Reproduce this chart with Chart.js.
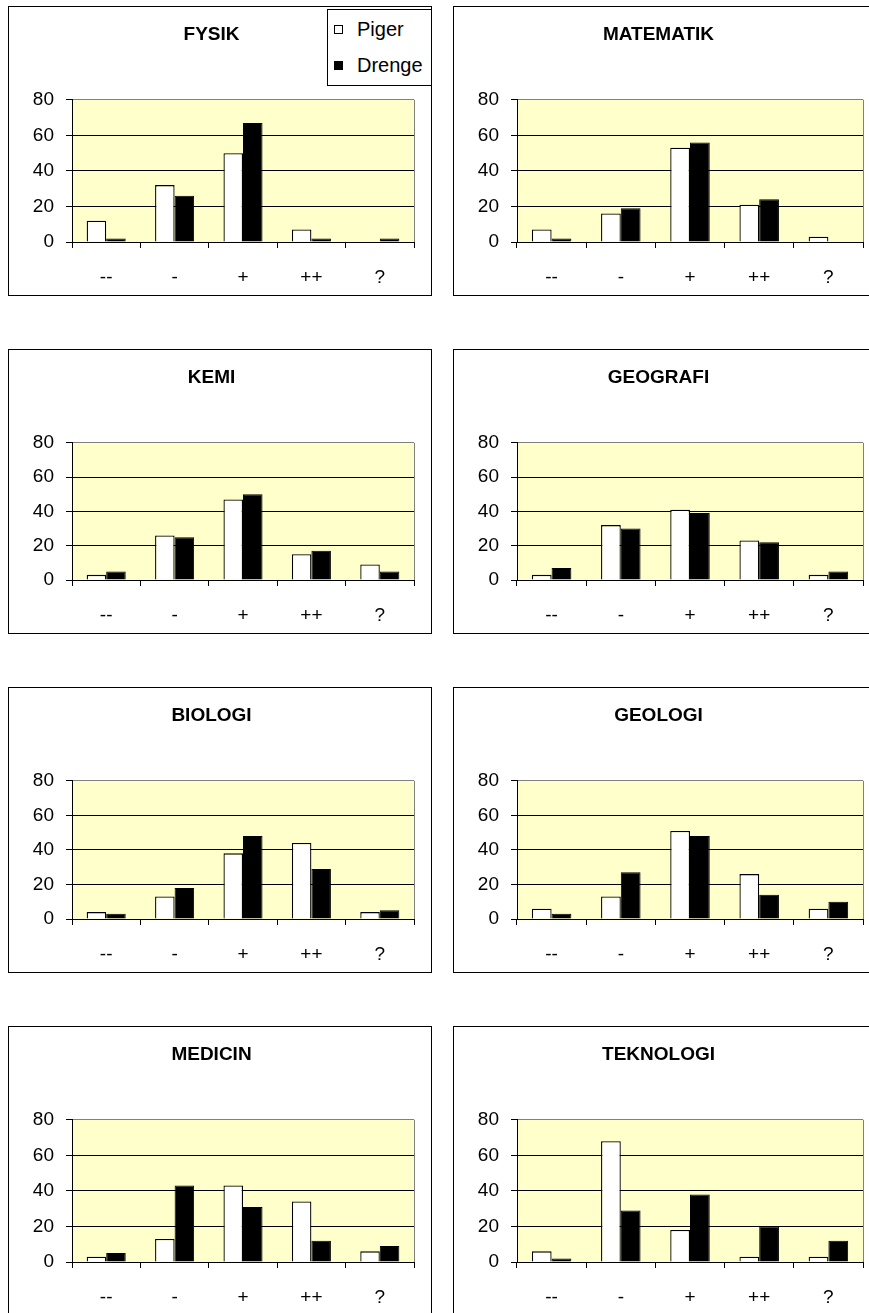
<!DOCTYPE html>
<html>
<head>
<meta charset="utf-8">
<script src="https://cdn.jsdelivr.net/npm/chart.js@4.4.1/dist/chart.umd.min.js"></script>
<style>
  html, body { margin: 0; padding: 0; background: #fff; }
  body { position: relative; width: 869px; height: 1313px; overflow: hidden; }
  .panel { position: absolute; box-sizing: border-box; border: 1px solid #000; background: #fff; }
  .panel canvas { position: absolute; left: 0; top: 0; }
  #legend {
    position: absolute; left: 327px; top: 9px; width: 105px; height: 77px;
    box-sizing: border-box; border: 1px solid #000; background: #fff;
    font-family: "Liberation Sans", Arial, sans-serif; font-size: 20px; color: #000;
    padding-top: 1px;
  }
  #legend .row { height: 36px; line-height: 36px; white-space: nowrap; position: relative; padding-left: 29px; }
  #legend .box { position: absolute; left: 6px; top: 14px; width: 9px; height: 9px; box-sizing: border-box; border: 1px solid #000; }
</style>
</head>
<body>
<script>
// Answer categories and the two groups
const categories = ['--', '-', '+', '++', '?'];
const seriesNames = ['Piger', 'Drenge'];
const yTickValues = [0, 20, 40, 60, 80];

// Percent of answers per subject
const fysikPiger = [12, 32, 50, 7, 0];
const fysikDrenge = [2, 26, 67, 2, 2];
const matematikPiger = [7, 16, 53, 21, 3];
const matematikDrenge = [2, 19, 56, 24, 0];
const kemiPiger = [3, 26, 47, 15, 9];
const kemiDrenge = [5, 25, 50, 17, 5];
const geografiPiger = [3, 32, 41, 23, 3];
const geografiDrenge = [7, 30, 39, 22, 5];
const biologiPiger = [4, 13, 38, 44, 4];
const biologiDrenge = [3, 18, 48, 29, 5];
const geologiPiger = [6, 13, 51, 26, 6];
const geologiDrenge = [3, 27, 48, 14, 10];
const medicinPiger = [3, 13, 43, 34, 6];
const medicinDrenge = [5, 43, 31, 12, 9];
const teknologiPiger = [6, 68, 18, 3, 3];
const teknologiDrenge = [2, 29, 38, 20, 12];

const subjectTitles = ['FYSIK', 'MATEMATIK', 'KEMI', 'GEOGRAFI', 'BIOLOGI', 'GEOLOGI', 'MEDICIN', 'TEKNOLOGI'];
const subjectPiger = [fysikPiger, matematikPiger, kemiPiger, geografiPiger, biologiPiger, geologiPiger, medicinPiger, teknologiPiger];
const subjectDrenge = [fysikDrenge, matematikDrenge, kemiDrenge, geografiDrenge, biologiDrenge, geologiDrenge, medicinDrenge, teknologiDrenge];

// Grid of panels: two columns, four rows
const colLeft = [8, 453];
const colWidth = [424, 428];
const rowTop = [6, 349, 687, 1026];
const rowHeight = [290, 285, 286, 290];

const FONT_FAMILY = '"Liberation Sans", Arial, sans-serif';
const Y_TICK_FONT = { family: FONT_FAMILY, size: 19 };
const X_TICK_FONT = { family: FONT_FAMILY, size: 19 };
const TITLE_FONT = { family: FONT_FAMILY, size: 19, weight: 'bold' };

// Pale yellow plot area with a grey frame on the right
const plotFrame = {
  id: 'plotFrame',
  beforeDraw(chart) {
    const a = chart.chartArea, ctx = chart.ctx;
    ctx.save();
    ctx.fillStyle = '#FFFFCC';
    ctx.fillRect(a.left, a.top, a.right - a.left, a.bottom - a.top);
    ctx.restore();
  },
  afterDraw(chart) {
    const a = chart.chartArea, ctx = chart.ctx;
    ctx.save();
    ctx.strokeStyle = '#808080';
    ctx.lineWidth = 1;
    ctx.beginPath();
    ctx.moveTo(Math.round(a.right) + 0.5, a.top);
    ctx.lineTo(Math.round(a.right) + 0.5, a.bottom);
    ctx.stroke();
    ctx.restore();
  }
};

function makeChart(canvas, idx) {
  return new Chart(canvas, {
    type: 'bar',
    data: {
      labels: categories,
      datasets: [
        { label: seriesNames[0], data: subjectPiger[idx], backgroundColor: '#ffffff', borderColor: '#000000', borderWidth: 1.3 },
        { label: seriesNames[1], data: subjectDrenge[idx], backgroundColor: '#000000', borderColor: '#000000', borderWidth: 1 }
      ]
    },
    options: {
      responsive: false,
      animation: false,
      events: [],
      categoryPercentage: 0.571,
      barPercentage: 1,
      layout: { padding: { left: 0, right: 17, top: 0, bottom: 0 } },
      plugins: {
        legend: { display: false },
        tooltip: { enabled: false },
        title: {
          display: true, text: subjectTitles[idx], color: '#000', font: TITLE_FONT,
          padding: { top: 16, bottom: 54 }
        }
      },
      scales: {
        x: {
          grid: { offset: true, drawOnChartArea: false, tickLength: 6, color: '#000', tickColor: '#000' },
          border: { color: '#000', width: 1 },
          ticks: { color: '#000', font: X_TICK_FONT, padding: 18, maxRotation: 0 },
          afterFit(scale) { scale.height = 53; }
        },
        y: {
          min: 0, max: 80,
          afterBuildTicks(scale) { scale.ticks = yTickValues.map(v => ({ value: v })); },
          ticks: { color: '#000', font: Y_TICK_FONT, padding: 12 },
          grid: {
            color: ctx => (ctx.tick && ctx.tick.value === 80 ? '#808080' : '#000'),
            tickColor: '#000', tickLength: 6, lineWidth: 1
          },
          border: { color: '#000', width: 1 },
          afterFit(scale) { scale.width = 63; }
        }
      }
    },
    plugins: [plotFrame]
  });
}

const charts = [];
subjectTitles.forEach((t, i) => {
  const col = i % 2, row = Math.floor(i / 2);
  const panel = document.createElement('div');
  panel.className = 'panel';
  panel.style.left = colLeft[col] + 'px';
  panel.style.top = rowTop[row] + 'px';
  panel.style.width = colWidth[col] + 'px';
  panel.style.height = rowHeight[row] + 'px';
  const canvas = document.createElement('canvas');
  canvas.width = colWidth[col] - 2;
  canvas.height = rowHeight[row] - 2;
  canvas.style.width = canvas.width + 'px';
  canvas.style.height = canvas.height + 'px';
  panel.appendChild(canvas);
  document.body.appendChild(panel);
  charts.push(makeChart(canvas, i));
});

// Shared legend, built from the first chart's datasets
const legend = document.createElement('div');
legend.id = 'legend';
charts[0].data.datasets.forEach(ds => {
  const row = document.createElement('div');
  row.className = 'row';
  const box = document.createElement('span');
  box.className = 'box';
  box.style.background = ds.backgroundColor;
  row.appendChild(box);
  row.appendChild(document.createTextNode(ds.label));
  legend.appendChild(row);
});
document.body.appendChild(legend);
</script>
</body>
</html>
